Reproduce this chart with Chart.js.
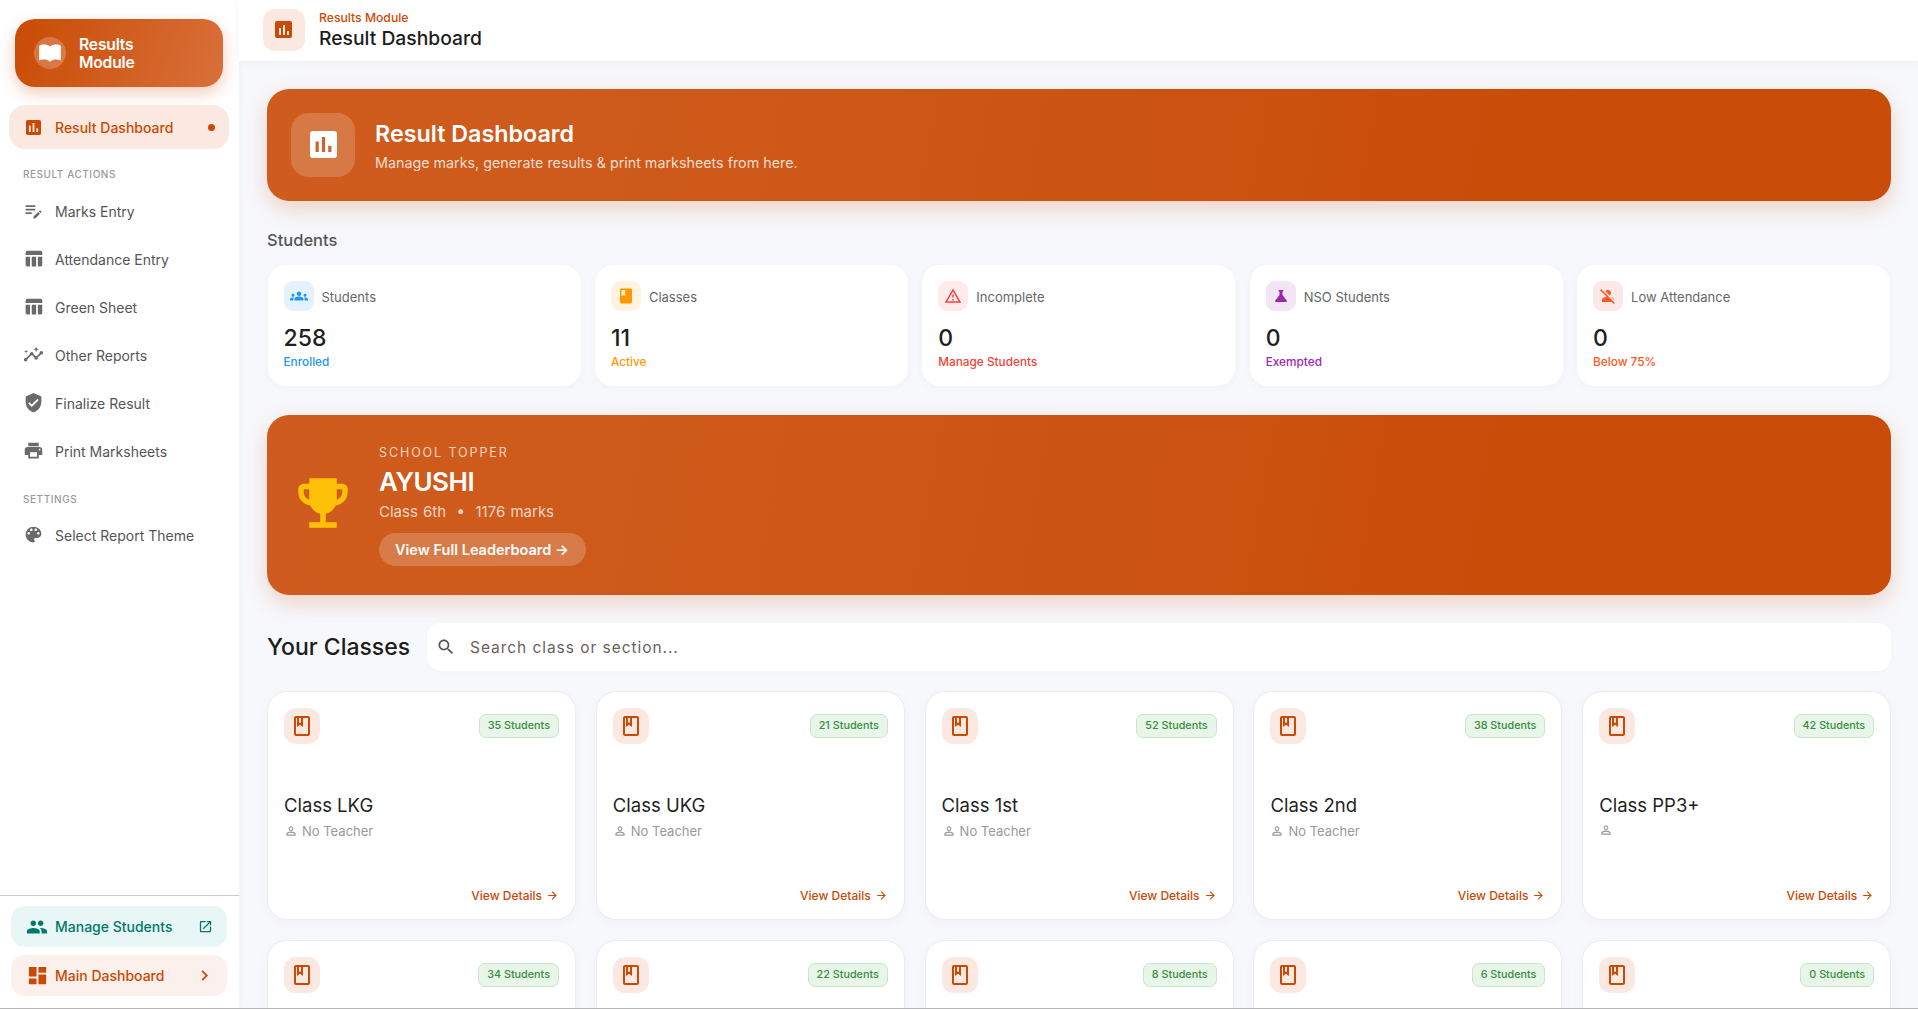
<!DOCTYPE html>
<html>
<head>
<meta charset="utf-8">
<title>Result Dashboard</title>
<script src="https://cdn.jsdelivr.net/npm/chart.js@4"></script>
<style>
* { box-sizing: border-box; margin: 0; padding: 0; }
html, body { width: 1918px; height: 1009px; overflow: hidden; background: #f7f8fc; font-family: Inter, "Open Sans", sans-serif; color: #1f1f1f; }
svg { display: block; fill: currentColor; }
.abs { position: absolute; }

/* sidebar */
#side { position: absolute; left: 0; top: 0; width: 239px; height: 1008px; background: #fff; box-shadow: 1px 0 6px rgba(0,0,0,.03); }
#logo { left: 15px; top: 19px; width: 208px; height: 68px; border-radius: 20px; background: linear-gradient(110deg, #c94b05, #d9703a); box-shadow: 0 6px 16px rgba(200,75,5,.28); color: #fff; }
#logo .circle { position: absolute; left: 19px; top: 18px; width: 32px; height: 32px; border-radius: 50%; background: rgba(255,255,255,.22); padding: 3px; }
#logo .t { position: absolute; left: 64px; top: 17px; font-size: 15.7px; line-height: 18px; font-weight: 600; letter-spacing: -.2px; }
.active { left: 9px; top: 105px; width: 220px; height: 44px; border-radius: 16px; background: #fbe9e1; color: #c94a05; font-size: 14px; font-weight: 500; }
.active span { position: absolute; left: 46px; top: 14px; }
.active i { position: absolute; left: 199px; top: 19px; width: 7px; height: 7px; border-radius: 50%; background: #c94a05; }
.sec { left: 23px; font-size: 10px; font-weight: 500; letter-spacing: .55px; color: #999; }
.item { left: 55px; font-size: 14px; color: #555; }
.ic { color: #6a6a6a; }
#rule { left: 0; top: 895px; width: 239px; height: 1px; background: #d8c8c0; }
.foot { left: 11px; width: 216px; height: 41px; border-radius: 14px; font-size: 14px; font-weight: 500; }
.foot span { position: absolute; left: 44px; top: 12px; }

/* top bar */
#top { left: 239px; top: 0; width: 1679px; height: 61px; background: #fff; box-shadow: 0 2px 8px rgba(0,0,0,.04); }
#topIcon { left: 263px; top: 9px; width: 42px; height: 42px; border-radius: 12px; background: #fbe9e1; }
.glyph { position: absolute; }
.glyph canvas { position: absolute; }

/* banners */
.banner { left: 267px; width: 1624px; border-radius: 22px; background: linear-gradient(100deg, #cf5c1e 0%, #cd5818 35%, #c94c08 80%); color: #fff; box-shadow: 0 8px 22px rgba(200,75,5,.22); }
#heroIcon { left: 291px; top: 113px; width: 64px; height: 64px; border-radius: 18px; background: rgba(255,255,255,.18); }

/* stat cards */
.stat { position: absolute; top: 265px; width: 313px; height: 121px; border-radius: 18px; background: #fff; box-shadow: 0 2px 10px rgba(0,0,0,.03); }
.stat .box { position: absolute; left: 16px; top: 16px; width: 30px; height: 30px; border-radius: 9px; padding: 6px; }
.stat .lab { position: absolute; left: 54px; top: 24px; font-size: 13px; color: #666; }
.stat .num { position: absolute; left: 16px; top: 59px; font-size: 23px; font-weight: 500; }
.stat .note { position: absolute; left: 16px; top: 90px; font-size: 11.8px; font-weight: 500; }

/* class cards */
.card { position: absolute; width: 309px; height: 229px; border-radius: 20px; background: #fff; border: 1px solid #ececf0; box-shadow: 0 3px 12px rgba(0,0,0,.03); }
.card .box { position: absolute; left: 16px; top: 16px; width: 36px; height: 36px; border-radius: 12px; background: #fbe9e1; color: #c94a05; padding: 6px; }
.card .badge { position: absolute; right: 16px; top: 22px; height: 24px; line-height: 22px; padding: 0 8px; border-radius: 7px; border: 1px solid #c8e6c9; background: #e8f5e9; color: #388e3c; font-size: 10.8px; font-weight: 500; }
.card .name { position: absolute; left: 16px; top: 102px; font-size: 18.5px; font-weight: 400; }
.card .tch { position: absolute; left: 16px; top: 131px; font-size: 13px; color: #999; display: flex; align-items: center; gap: 4px; }
.card .go { position: absolute; right: 16px; top: 196px; font-size: 12px; font-weight: 500; color: #c94a05; display: flex; align-items: center; gap: 4px; }
#clip { position: absolute; left: 239px; top: 0; width: 1679px; height: 1008px; overflow: hidden; }
#bottom { left: 0; top: 1008px; width: 1918px; height: 1px; background: #b5b5b5; }
</style>
</head>
<body>
<div id="clip"></div>

<div id="side">
  <div id="logo" class="abs">
    <div class="circle"><svg width="26" height="26" viewBox="0 0 24 24"><path d="M12 6C10.5 4.8 8 4.2 6 4.2c-1.5 0-3 .4-4 1.1V19c1.3-.7 2.8-1 4.2-1 2.2 0 4.2.5 5.8 2 1.6-1.5 3.6-2 5.8-2 1.4 0 2.9.3 4.2 1V5.3c-1-.7-2.5-1.1-4-1.1-2 0-4.5.6-6 1.8z"/></svg></div>
    <div class="t">Results<br>Module</div>
  </div>
  <div class="abs active"><span>Result Dashboard</span><i></i></div>
  <div class="glyph" data-size="21" data-bg="#c94a05" data-fg="#fbe9e1" style="left:23px;top:117px"></div>
  <div class="abs sec" style="top:168px">RESULT ACTIONS</div>
  <div id="menu"></div>
  <div class="abs sec" style="top:493px">SETTINGS</div>
  <div id="rule" class="abs"></div>
  <div class="abs foot" style="top:906px;background:#e8f6f5;color:#00796b"><span>Manage Students</span>
    <svg class="abs" style="left:15px;top:10px" width="22" height="22" viewBox="0 0 24 24"><path d="M16 11c1.66 0 2.99-1.34 2.99-3S17.66 5 16 5c-1.66 0-3 1.34-3 3s1.34 3 3 3zm-8 0c1.66 0 2.99-1.34 2.99-3S9.66 5 8 5C6.34 5 5 6.34 5 8s1.34 3 3 3zm0 2c-2.33 0-7 1.17-7 3.5V19h14v-2.5c0-2.33-4.67-3.5-7-3.5zm8 0c-.29 0-.62.02-.97.05 1.16.84 1.97 1.97 1.97 3.45V19h6v-2.5c0-2.33-4.67-3.5-7-3.5z"/></svg>
    <svg class="abs" style="left:187px;top:13px" width="15" height="15" viewBox="0 0 24 24"><path d="M19 19H5V5h7V3H5c-1.11 0-2 .9-2 2v14c0 1.1.89 2 2 2h14c1.1 0 2-.9 2-2v-7h-2v7zM14 3v2h3.59l-9.83 9.83 1.41 1.41L19 6.41V10h2V3h-7z"/></svg>
  </div>
  <div class="abs foot" style="top:955px;background:#fbf0ec;color:#c94a05"><span>Main Dashboard</span>
    <svg class="abs" style="left:15px;top:9px" width="23" height="23" viewBox="0 0 24 24"><path d="M3 13h8V3H3v10zm0 8h8v-6H3v6zm10 0h8V11h-8v10zm0-18v6h8V3h-8z"/></svg>
    <svg class="abs" style="left:183px;top:10px" width="21" height="21" viewBox="0 0 24 24"><path d="M10 6L8.59 7.41 13.17 12l-4.58 4.59L10 18l6-6z"/></svg>
  </div>
</div>

<div id="top" class="abs"></div>
<div id="topIcon" class="abs"></div>
<div class="glyph" data-size="23" data-bg="#c94a05" data-fg="#fbe9e1" style="left:272px;top:18px"></div>
<div class="abs" style="left:319px;top:10px;font-size:12.2px;font-weight:500;color:#c94a05">Results Module</div>
<div class="abs" style="left:319px;top:26px;font-size:19.3px;font-weight:500;color:#1c1c1c">Result Dashboard</div>

<div class="abs banner" style="top:89px;height:112px"></div>
<div id="heroIcon" class="abs"></div>
<div class="glyph" data-size="37" data-bg="#ffffff" data-fg="#d0622a" style="left:305px;top:126px"></div>
<div class="abs" style="left:375px;top:119px;font-size:23.3px;font-weight:600;color:#fff">Result Dashboard</div>
<div class="abs" style="left:375px;top:154px;font-size:14.3px;color:#f8ddcf">Manage marks, generate results &amp; print marksheets from here.</div>

<div class="abs" style="left:267px;top:230px;font-size:16.5px;font-weight:500;color:#555">Students</div>
<div id="stats"></div>

<div class="abs banner" style="top:415px;height:180px"></div>
<svg class="abs" style="left:290px;top:470px;color:#ffc107" width="66" height="66" viewBox="0 0 24 24"><path d="M19 5h-2V3H7v2H5c-1.1 0-2 .9-2 2v1c0 2.55 1.92 4.63 4.39 4.94.63 1.5 1.98 2.63 3.61 2.96V19H7v2h10v-2h-4v-3.1c1.63-.33 2.98-1.46 3.61-2.96C19.08 12.63 21 10.55 21 8V7c0-1.1-.9-2-2-2zM5 8V7h2v3.82C5.84 10.4 5 9.3 5 8zm14 0c0 1.3-.84 2.4-2 2.82V7h2v1z"/></svg>
<div class="abs" style="left:379px;top:445px;font-size:12.5px;letter-spacing:1.9px;color:#f6d5c3">SCHOOL TOPPER</div>
<div class="abs" style="left:379px;top:466px;font-size:26px;font-weight:600;letter-spacing:-.5px;color:#fff">AYUSHI</div>
<div class="abs" style="left:379px;top:502px;font-size:15px;color:#f6d5c3;word-spacing:1px">Class 6th &nbsp;•&nbsp; 1176 marks</div>
<div class="abs" style="left:379px;top:533px;width:207px;height:33px;border-radius:17px;background:rgba(255,255,255,.2);color:#fff;font-size:14.5px;font-weight:600;line-height:33px;padding-left:16px;white-space:nowrap">View Full Leaderboard →</div>

<div class="abs" style="left:267px;top:633px;font-size:23px;font-weight:500;color:#1c1c1c">Your Classes</div>
<div class="abs" style="left:427px;top:623px;width:1464px;height:48px;border-radius:14px;background:#fff;box-shadow:0 1px 6px rgba(0,0,0,.02)"></div>
<svg class="abs" style="left:436px;top:637px;color:#555" width="20" height="20" viewBox="0 0 24 24"><path d="M15.5 14h-.79l-.28-.27C15.41 12.59 16 11.11 16 9.5 16 5.91 13.09 3 9.5 3S3 5.91 3 9.5 5.91 16 9.5 16c1.61 0 3.09-.59 4.23-1.57l.27.28v.79l5 4.99L20.49 19l-4.99-5zm-6 0C7.01 14 5 11.99 5 9.5S7.01 5 9.5 5 14 7.01 14 9.5 11.99 14 9.5 14z"/></svg>
<div class="abs" style="left:470px;top:638px;font-size:15.5px;color:#6a5f5c;letter-spacing:.95px">Search class or section...</div>

<div id="cards"></div>
<div id="bottom" class="abs"></div>

<script>
// what the picture shows
var glyphLabels = ['a', 'b', 'c'];
var glyphBars = [7, 10, 4];

var menuLabels = ['Marks Entry', 'Attendance Entry', 'Green Sheet', 'Other Reports', 'Finalize Result', 'Print Marksheets', 'Select Report Theme'];

var statLabels = ['Students', 'Classes', 'Incomplete', 'NSO Students', 'Low Attendance'];
var statValues = [258, 11, 0, 0, 0];
var statNotes = ['Enrolled', 'Active', 'Manage Students', 'Exempted', 'Below 75%'];

var classNames = ['Class LKG', 'Class UKG', 'Class 1st', 'Class 2nd', 'Class PP3+'];
var classTeachers = ['No Teacher', 'No Teacher', 'No Teacher', 'No Teacher', ''];
var classStudents = [35, 21, 52, 38, 42];
var nextRowStudents = [34, 22, 8, 6, 0];

// material icon paths
var P = {
  note: 'M3 10h11v2H3v-2zm0-2h11V6H3v2zm0 8h7v-2H3v2zm15.01-3.13l.71-.71c.39-.39 1.02-.39 1.41 0l.71.71c.39.39.39 1.02 0 1.41l-.71.71-2.12-2.12zm-.71.71l-5.3 5.3V21h2.12l5.3-5.3-2.12-2.12z',
  table: 'M10 10.02h5V21h-5zM17 21h3c1.1 0 2-.9 2-2v-9h-5v11zm3-18H5c-1.1 0-2 .9-2 2v3h19V5c0-1.1-.9-2-2-2zM3 19c0 1.1.9 2 2 2h3V10H3v9z',
  insights: 'M21 8c-1.45 0-2.26 1.44-1.93 2.51l-3.55 3.56c-.3-.09-.74-.09-1.04 0l-2.55-2.55C12.27 10.45 11.46 9 10 9c-1.45 0-2.27 1.44-1.93 2.52l-4.56 4.55C2.44 15.74 1 16.55 1 18c0 1.1.9 2 2 2 1.45 0 2.26-1.44 1.93-2.51l4.55-4.56c.3.09.74.09 1.04 0l2.55 2.55C12.73 16.55 13.54 18 15 18c1.45 0 2.27-1.44 1.93-2.52l3.56-3.55c1.07.33 2.51-.48 2.51-1.93 0-1.1-.9-2-2-2zM15 9l.94-2.07L18 6l-2.06-.93L15 3l-.92 2.07L12 6l2.08.93zM3.5 11L4 9l2-.5L4 8l-.5-2L3 8l-2 .5L3 9z',
  shield: 'M12 1L3 5v6c0 5.55 3.84 10.74 9 12 5.16-1.26 9-6.45 9-12V5l-9-4zm-2 16l-4-4 1.41-1.41L10 14.17l6.59-6.59L18 9l-8 8z',
  print: 'M19 8H5c-1.66 0-3 1.34-3 3v6h4v4h12v-4h4v-6c0-1.66-1.34-3-3-3zm-3 11H8v-5h8v5zm3-7c-.55 0-1-.45-1-1s.45-1 1-1 1 .45 1 1-.45 1-1 1zm-1-9H6v4h12V3z',
  palette: 'M12 3c-4.97 0-9 4.03-9 9s4.03 9 9 9c.83 0 1.5-.67 1.5-1.5 0-.39-.15-.74-.39-1.01-.23-.26-.38-.61-.38-.99 0-.83.67-1.5 1.5-1.5H16c2.76 0 5-2.24 5-5 0-4.42-4.03-8-9-8zm-5.5 9c-.83 0-1.5-.67-1.5-1.5S5.67 9 6.5 9 8 9.67 8 10.5 7.33 12 6.5 12zm3-4C8.67 8 8 7.33 8 6.5S8.67 5 9.5 5s1.5.67 1.5 1.5S10.33 8 9.5 8zm5 0c-.83 0-1.5-.67-1.5-1.5S13.67 5 14.5 5s1.5.67 1.5 1.5S15.33 8 14.5 8zm3 4c-.83 0-1.5-.67-1.5-1.5S16.67 9 17.5 9s1.5.67 1.5 1.5-.67 1.5-1.5 1.5z',
  groups: 'M12 12.75c1.63 0 3.07.39 4.24.9 1.08.48 1.76 1.56 1.76 2.73V18H6v-1.61c0-1.18.68-2.26 1.76-2.73 1.17-.52 2.61-.91 4.24-.91zM4 13c1.1 0 2-.9 2-2s-.9-2-2-2-2 .9-2 2 .9 2 2 2zm1.13 1.1c-.37-.06-.74-.1-1.13-.1-.99 0-1.93.21-2.78.58C.48 14.9 0 15.62 0 16.43V18h4.5v-1.61c0-.83.23-1.61.63-2.29zM20 13c1.1 0 2-.9 2-2s-.9-2-2-2-2 .9-2 2 .9 2 2 2zm4 3.43c0-.81-.48-1.53-1.22-1.85-.85-.37-1.79-.58-2.78-.58-.39 0-.76.04-1.13.1.4.68.63 1.46.63 2.29V18H24v-1.57zM12 6c1.66 0 3 1.34 3 3s-1.34 3-3 3-3-1.34-3-3 1.34-3 3-3z',
  book: 'M18 2H6c-1.1 0-2 .9-2 2v16c0 1.1.9 2 2 2h12c1.1 0 2-.9 2-2V4c0-1.1-.9-2-2-2zM6 4h5v8l-2.5-1.5L6 12V4z',
  warn: 'M12 5.99L19.53 19H4.47L12 5.99M12 2L1 21h22L12 2zm1 14h-2v2h2v-2zm0-6h-2v4h2v-4z',
  flask: 'M19.8 18.4L14 10.67V6.5l1.35-1.69c.26-.33.03-.81-.39-.81H9.04c-.42 0-.65.48-.39.81L10 6.5v4.17L4.2 18.4c-.49.66-.02 1.6.8 1.6h14c.82 0 1.29-.94.8-1.6z',
  off: 'M8.65 5.82C9.36 4.72 10.6 4 12 4c2.21 0 4 1.79 4 4 0 1.4-.72 2.64-1.82 3.35L8.65 5.82zM20 17.17c-.02-1.1-.63-2.11-1.61-2.62-.54-.28-1.13-.54-1.77-.76L20 17.17zm1.19 4.02L2.81 2.81 1.39 4.22l8.89 8.89c-1.81.23-3.39.79-4.67 1.45C4.61 15.07 4 16.1 4 17.22V20h13.17l2.61 2.61 1.41-1.42z',
  bookline: 'M18 2H6c-1.1 0-2 .9-2 2v16c0 1.1.9 2 2 2h12c1.1 0 2-.9 2-2V4c0-1.1-.9-2-2-2zM9 4h2v5l-1-.75L9 9V4zm9 16H6V4h1v9l3-2.25L13 13V4h5v16z',
  person: 'M12 5.9c1.16 0 2.1.94 2.1 2.1s-.94 2.1-2.1 2.1S9.9 9.16 9.9 8s.94-2.1 2.1-2.1m0 9c2.97 0 6.1 1.46 6.1 2.1v1.1H5.9V17c0-.64 3.13-2.1 6.1-2.1M12 4C9.79 4 8 5.79 8 8s1.79 4 4 4 4-1.79 4-4-1.79-4-4-4zm0 9c-2.67 0-8 1.34-8 4v3h16v-3c0-2.66-5.33-4-8-4z',
  arrow: 'M12 4l-1.41 1.41L16.17 11H4v2h12.17l-5.58 5.59L12 20l8-8z'
};
function icon(name, size, css) {
  return '<svg width="' + size + '" height="' + size + '" viewBox="0 0 24 24" style="' + (css || '') + '"><path d="' + P[name] + '"/></svg>';
}

// sidebar menu
var menuIcons = ['note', 'table', 'table', 'insights', 'shield', 'print', 'palette'];
var menuTops = [212, 260, 308, 356, 404, 452, 536];
var side = document.getElementById('side');
menuLabels.forEach(function(m, i) {
  var d = document.createElement('div');
  d.className = 'abs item';
  d.style.top = (menuTops[i] - 9) + 'px';
  d.textContent = m;
  side.appendChild(d);
  var s = document.createElement('div');
  s.className = 'abs ic';
  s.style.left = '23px';
  s.style.top = (menuTops[i] - 12) + 'px';
  s.innerHTML = icon(menuIcons[i], 21);
  side.appendChild(s);
});

// stat cards
var statIcons = ['groups', 'book', 'warn', 'flask', 'off'];
var statFg = ['#2196f3', '#ff9800', '#f44336', '#9c27b0', '#ff5722'];
var statBg = ['#e3f2fd', '#fff3e0', '#ffebee', '#f3e5f5', '#fbe9e7'];
var html = '';
statLabels.forEach(function(l, i) {
  html += '<div class="stat" style="left:' + (267.5 + i * 327.4) + 'px">' +
    '<div class="box" style="background:' + statBg[i] + ';color:' + statFg[i] + '">' + icon(statIcons[i], 18) + '</div>' +
    '<div class="lab">' + l + '</div>' +
    '<div class="num">' + statValues[i] + '</div>' +
    '<div class="note" style="color:' + statFg[i] + '">' + statNotes[i] + '</div></div>';
});
document.getElementById('stats').innerHTML = html;

// class cards, second row runs off the bottom of the window
var clip = document.getElementById('clip');
function cardHtml(x, y, n, name, teacher) {
  var h = '<div class="card" style="left:' + (x - 239) + 'px;top:' + y + 'px">' +
    '<div class="box">' + icon('bookline', 24) + '</div>' +
    '<div class="badge">' + n + ' Students</div>';
  if (name) {
    h += '<div class="name">' + name + '</div>' +
      '<div class="tch">' + icon('person', 14) + '<span>' + teacher + '</span></div>' +
      '<div class="go">View Details' + icon('arrow', 13) + '</div>';
  }
  return h + '</div>';
}
var cards = '';
classNames.forEach(function(c, i) {
  cards += cardHtml(267 + i * 328.8, 691, classStudents[i], c, classTeachers[i]);
});
nextRowStudents.forEach(function(n, i) {
  cards += cardHtml(267 + i * 328.8, 940, n, '', '');
});
clip.innerHTML = cards;

// the bar glyphs are small Chart.js bar charts on a rounded square
document.querySelectorAll('.glyph').forEach(function(g) {
  var size = Number(g.dataset.size);
  var u = size / 24;
  g.style.width = size + 'px';
  g.style.height = size + 'px';
  var sq = document.createElement('div');
  sq.style.cssText = 'position:absolute;left:' + 3 * u + 'px;top:' + 3 * u + 'px;width:' + 18 * u + 'px;height:' + 18 * u + 'px;border-radius:' + 2 * u + 'px;background:' + g.dataset.bg;
  g.appendChild(sq);
  var c = document.createElement('canvas');
  c.width = Math.round(12 * u);
  c.height = Math.round(10 * u);
  c.style.left = 6 * u + 'px';
  c.style.top = 7 * u + 'px';
  g.appendChild(c);
  new Chart(c.getContext('2d'), {
    type: 'bar',
    data: {
      labels: glyphLabels,
      datasets: [{ data: glyphBars, backgroundColor: g.dataset.fg, barPercentage: 0.5, categoryPercentage: 1 }]
    },
    options: {
      responsive: false,
      animation: false,
      layout: { padding: 0 },
      plugins: { legend: { display: false }, tooltip: { enabled: false } },
      scales: { x: { display: false }, y: { display: false, min: 0, max: 10 } }
    }
  });
});
</script>
</body>
</html>
